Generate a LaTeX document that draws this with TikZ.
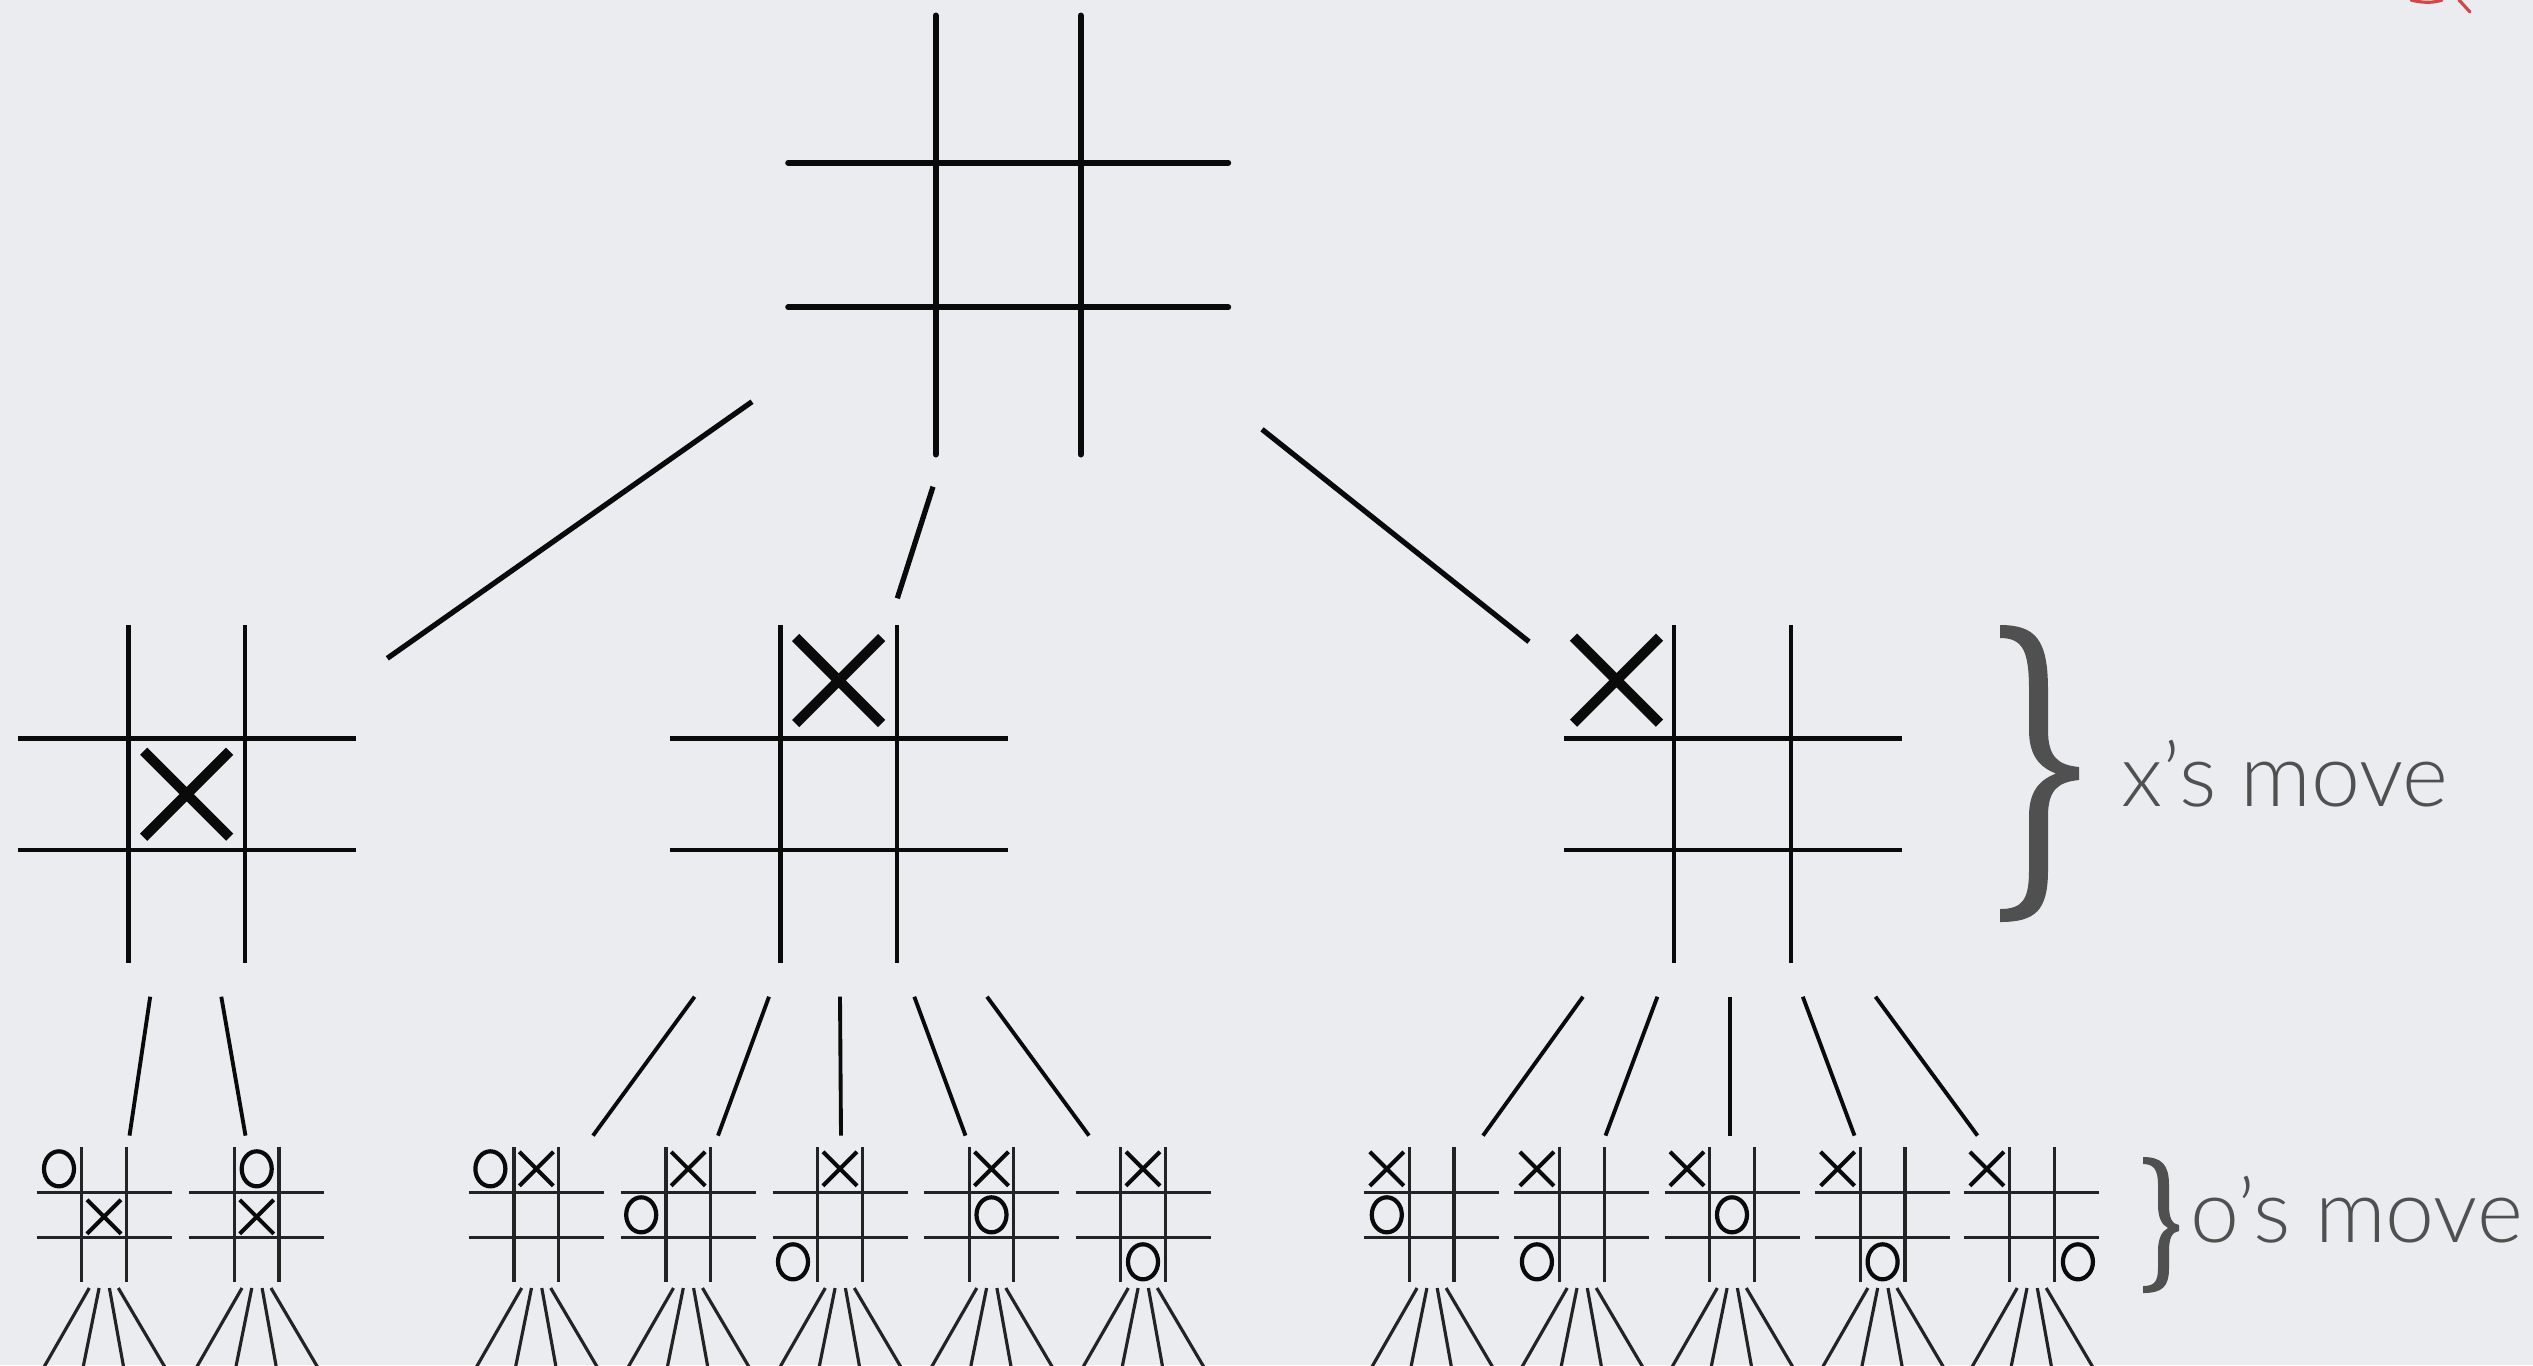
\documentclass[tikz,border=0pt]{standalone}
\usepackage{fontspec}
\newfontfamily\lblfont{Lato Light}
\usetikzlibrary{calc}
\definecolor{bg}{RGB}{234,236,239}
\definecolor{ink}{RGB}{10,10,10}
\definecolor{inksmall}{RGB}{35,35,35}
\definecolor{lbl}{RGB}{80,80,80}
\definecolor{redmark}{RGB}{208,72,72}
\newcommand\tttgrid[6]{\begin{scope}[shift={(#1)}]
  \draw[#6] (-#2,-#5) -- (-#2,#5) (#2,-#5) -- (#2,#5) (-#4,-#3) -- (#4,-#3) (-#4,#3) -- (#4,#3);
\end{scope}}
\newcommand\markX[5]{\begin{scope}[shift={(#1)}]
  \draw[#5] ({#2-#4},{#3-#4}) -- ({#2+#4},{#3+#4}) ({#2-#4},{#3+#4}) -- ({#2+#4},{#3-#4});
\end{scope}}
\newcommand\markO[4]{\begin{scope}[shift={(#1)}]
  \draw[#4] (#2,#3) ellipse [x radius=0.15cm, y radius=0.175cm];
\end{scope}}
\begin{document}
\begin{tikzpicture}[x=0.01cm,y=-0.01cm,
  topgrid/.style={ink, line width=1.7pt, line cap=round},
  midgrid/.style={ink, line width=1.25pt},
  smallgrid/.style={inksmall, line width=0.95pt},
  bigX/.style={ink, line width=2.9pt},
  smallX/.style={ink, line width=1.15pt},
  smallO/.style={ink, line width=1.2pt},
  topedge/.style={ink, line width=1.5pt},
  midedge/.style={ink, line width=1.1pt},
  fan/.style={inksmall, line width=0.9pt},
  bracestyle/.style={lbl},
  label/.style={lbl, anchor=base west, inner sep=0pt, font=\lblfont\fontsize{25}{30}\selectfont}]
\fill[bg] (0,0) rectangle (2533,1365);
\useasboundingbox (0,0) rectangle (2533,1365);

% ---------- boards ----------
\coordinate (root) at (1008.2,235);
\tttgrid{root}{72.5}{72.3}{220}{219.5}{topgrid}

\coordinate (mL) at (186.7,794.2);
\coordinate (mM) at (838.7,794.2);
\coordinate (mR) at (1732.5,794.2);
\foreach \b in {mL,mM,mR}{\tttgrid{\b}{58.35}{55.85}{169}{169}{midgrid}}
\markX{mL}{0}{0}{43}{bigX}
\markX{mM}{0}{-113.7}{43}{bigX}
\markX{mR}{-116}{-114}{43}{bigX}

\foreach \n/\x in {1/104,2/256.7,3/536.4,4/688.2,5/840,6/991.5,7/1143,8/1431.8,9/1581.9,10/1732,11/1882.6,12/2031.9}{
  \coordinate (s\n) at (\x,1214.8);
  \tttgrid{s\n}{22.3}{22.5}{67.5}{67.5}{smallgrid}
}
% left group
\markO{s1}{-45}{-46}{smallO}   \markX{s1}{0}{2}{17}{smallX}
\markO{s2}{0}{-46}{smallO}     \markX{s2}{0}{2}{17}{smallX}
% middle group
\markO{s3}{-46}{-46}{smallO}   \markX{s3}{0}{-46}{17}{smallX}
\markX{s4}{0}{-46}{17}{smallX} \markO{s4}{-47}{0}{smallO}
\markX{s5}{0}{-46}{17}{smallX} \markO{s5}{-47}{47}{smallO}
\markX{s6}{0}{-46}{17}{smallX} \markO{s6}{0}{0}{smallO}
\markX{s7}{0}{-46}{17}{smallX} \markO{s7}{0}{47}{smallO}
% right group
\markX{s8}{-45}{-46}{17}{smallX}  \markO{s8}{-45}{0}{smallO}
\markX{s9}{-45}{-46}{17}{smallX}  \markO{s9}{-45}{47}{smallO}
\markX{s10}{-45}{-46}{17}{smallX} \markO{s10}{0}{0}{smallO}
\markX{s11}{-45}{-46}{17}{smallX} \markO{s11}{0}{47}{smallO}
\markX{s12}{-45}{-46}{17}{smallX} \markO{s12}{46}{47}{smallO}

% ---------- connectors ----------
\foreach \n/\ax/\ay/\bx/\by in {1/752/401.7/387.3/658.3, 2/933/486.7/897.3/598.3, 3/1262/429.3/1529/641.7}{
  \coordinate (ta\n) at (\ax,\ay); \coordinate (tb\n) at (\bx,\by);
  \draw[topedge] (ta\n) -- (tb\n);
}
\foreach \n/\ax/\bx in {1/150.2/129.5, 2/221.3/245.5,
  3/694.6/593, 4/769/718, 5/840/841, 6/914.3/965.5, 7/987/1089,
  8/1583/1483, 9/1657.4/1605.5, 10/1730/1730, 11/1802.8/1854.5, 12/1875.5/1977.5}{
  \coordinate (ma\n) at (\ax,996.7); \coordinate (mb\n) at (\bx,1135.6);
  \draw[midedge] (ma\n) -- (mb\n);
}
% fans below small boards
\foreach \n in {1,...,12}{
  \begin{scope}[shift={(s\n)}]
    \foreach \t/\u in {-14.7/-61.6, -4.9/-21.4, 5.4/20.1, 14.3/62.5}{
      \draw[fan] (\t,73.2) -- (\u,155);
    }
  \end{scope}
}

% ---------- braces and labels ----------
\fill[bracestyle] (2000,625) .. controls (2036,625) and (2048,640) .. (2048,690)
  -- (2048,730) .. controls (2048,757) and (2058,765) .. (2079,767)
  -- (2079,780) .. controls (2058,782) and (2048,790) .. (2048,816)
  -- (2048,870) .. controls (2048,910) and (2036,922) .. (2000,922)
  -- (2000,909) .. controls (2023,909) and (2029,899) .. (2029,870)
  -- (2029,816) .. controls (2029,792) and (2039,780) .. (2056,773.5)
  .. controls (2039,767) and (2029,755) .. (2029,730)
  -- (2029,690) .. controls (2029,651) and (2023,638) .. (2000,638) -- cycle;
\node[label] (xlbl) at (2121,806.7) {x’s move};

\fill[bracestyle] (2143,1157) .. controls (2162,1157) and (2169,1165) .. (2169,1185)
  -- (2169,1205) .. controls (2169,1218) and (2172,1224) .. (2179,1225)
  -- (2179,1231) .. controls (2172,1232) and (2169,1238) .. (2169,1251)
  -- (2169,1268) .. controls (2169,1287) and (2162,1293) .. (2143,1293)
  -- (2143,1286) .. controls (2154,1286) and (2158,1282) .. (2158,1268)
  -- (2158,1251) .. controls (2158,1238) and (2162,1231) .. (2168,1228)
  .. controls (2162,1225) and (2158,1218) .. (2158,1205)
  -- (2158,1185) .. controls (2158,1170) and (2154,1164) .. (2143,1164) -- cycle;
\node[label] (olbl) at (2190,1242.7) {o’s move};

% red mark at the top edge
\draw[redmark, line width=0.9pt, line cap=round] (2411,0) .. controls (2422,3) and (2434,3) .. (2442,0);
\draw[redmark, line width=0.9pt, line cap=round] (2459,0) -- (2470,12);
\end{tikzpicture}
\end{document}
